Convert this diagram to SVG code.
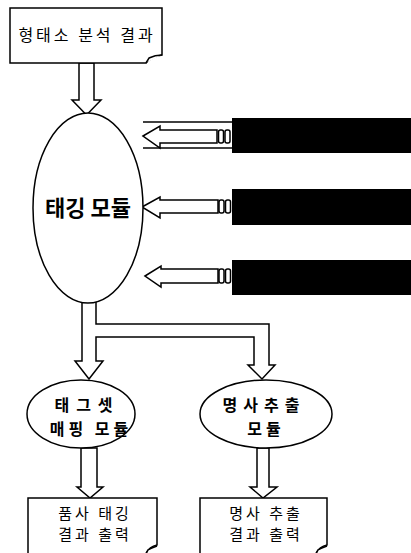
<svg xmlns="http://www.w3.org/2000/svg" width="411" height="553" viewBox="0 0 411 553">
<style>
.ln{fill:#fff;stroke:#000;stroke-width:1.5;stroke-linejoin:miter}
.ol{fill:none;stroke:#000;stroke-width:1.5}
.bar{fill:#000}
.t{font-family:"Noto Sans CJK KR","Noto Sans",sans-serif;fill:#000;text-anchor:middle}
.tb{font-weight:bold}
</style>
<rect width="411" height="553" fill="#fff"/>
<g id="connectors">
  <polygon class="ln" points="79,63 94,63 94,100 101,100 86.5,115 72,100 79,100"/>
  <path class="ln" d="M82,300 V361 H75 L89,379 L103,361 H96 V337 H254 V365 H248 L262,379 L275,365 H269 V324 H96 V300"/>
  <polygon class="ln" points="81,448 97,448 97,487 103,487 90,498 77,487 81,487"/>
  <polygon class="ln" points="257,448 269,448 269,487 277,487 263,498 250,487 257,487"/>
  <line class="ol" x1="143" y1="122" x2="232" y2="122"/>
  <line class="ol" x1="143" y1="148" x2="232" y2="148"/>
  <polygon class="ln" points="143,136 160,126 160,130 217,130 217,143 160,143 160,148"/>
  <rect class="ln" x="218.5" y="130" width="5" height="13" rx="2"/>
  <rect class="ln" x="225" y="130" width="5" height="13" rx="2"/>
  <polygon class="ln" points="142,207 160,197 160,200 218,200 218,213 160,213 160,218"/>
  <rect class="ln" x="219" y="200" width="5" height="13" rx="2"/>
  <rect class="ln" x="225.5" y="200" width="5" height="13" rx="2"/>
  <polygon class="ln" points="145,276 161,266 161,269 218,269 218,283 161,283 161,287"/>
  <rect class="ln" x="219" y="269" width="5" height="14" rx="2"/>
  <rect class="ln" x="225.5" y="269" width="5" height="14" rx="2"/>
</g>
<g id="bars">
  <rect class="bar" x="232" y="118" width="179" height="35"/>
  <rect class="bar" x="232" y="189" width="179" height="36"/>
  <rect class="bar" x="232" y="260" width="179" height="35"/>
</g>
<g id="morph-result">
  <path class="ln" d="M10,8 H162 V55 C156,56 150,59 146,63 H10 Z"/>
  <path class="ln" d="M146,63 L149,58 C153,56 158,55 162,55"/>
  <text class="t" x="87" y="41" font-size="16" letter-spacing="3">형태소 분석 결과</text>
</g>
<g id="tagging-module">
  <ellipse class="ln" cx="88" cy="208" rx="55" ry="95"/>
  <text class="t tb" x="88" y="216" font-size="22">태깅 모듈</text>
</g>
<g id="tagset-mapping">
  <ellipse class="ln" cx="81" cy="414" rx="54" ry="34"/>
  <text class="t tb" x="87" y="411" font-size="16" letter-spacing="7">태그셋</text>
  <text class="t tb" x="91" y="435" font-size="16" letter-spacing="4">매핑 모듈</text>
</g>
<g id="noun-extract">
  <ellipse class="ln" cx="266" cy="414" rx="66" ry="34"/>
  <text class="t tb" x="264" y="411" font-size="16" letter-spacing="6">명사추출</text>
  <text class="t tb" x="266" y="435" font-size="16" letter-spacing="4">모듈</text>
</g>
<g id="pos-output">
  <path class="ln" d="M28,498 H157 V545 C152,546 147,550 145,556 H28 Z"/>
  <path class="ln" d="M145,556 L148,550 C151,548 154,547 157,546"/>
  <text class="t" x="95" y="519" font-size="15" letter-spacing="3">품사 태깅</text>
  <text class="t" x="95" y="540" font-size="15" letter-spacing="3">결과 출력</text>
</g>
<g id="noun-output">
  <path class="ln" d="M200,498 H327 V545 C322,546 317,550 315,556 H200 Z"/>
  <path class="ln" d="M315,556 L318,550 C321,548 324,547 327,546"/>
  <text class="t" x="266" y="519" font-size="15" letter-spacing="3">명사 추출</text>
  <text class="t" x="266" y="540" font-size="15" letter-spacing="3">결과 출력</text>
</g>
</svg>
